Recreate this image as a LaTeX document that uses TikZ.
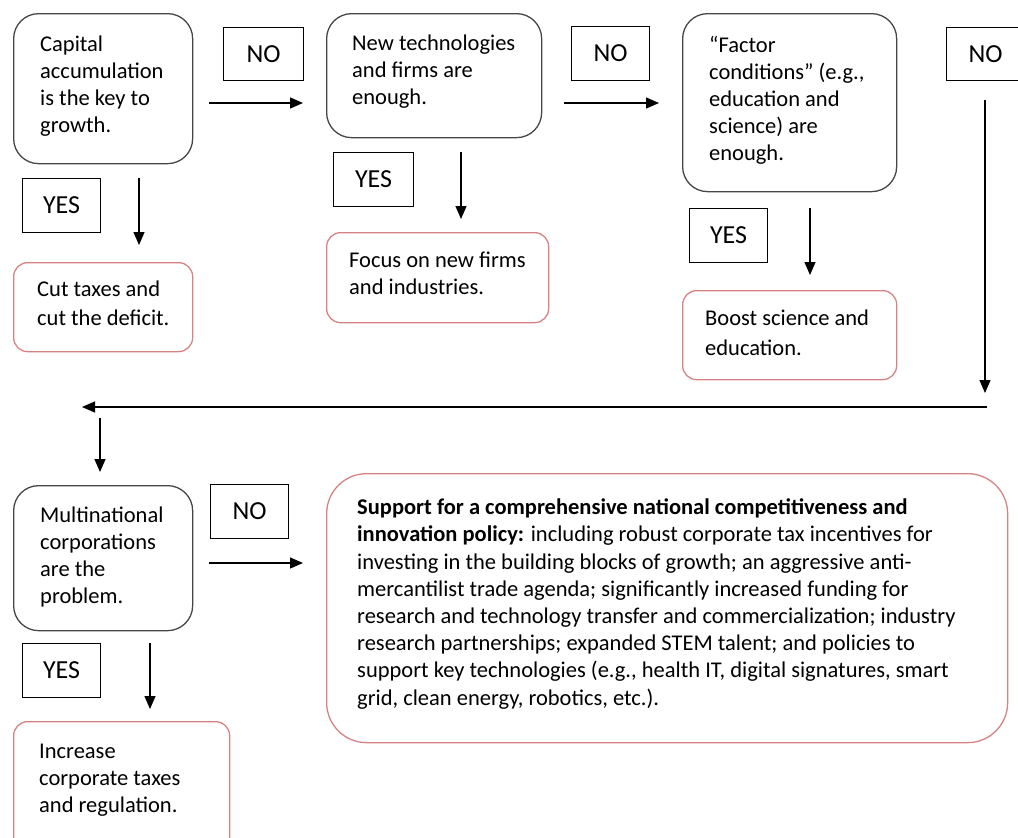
\documentclass[tikz,border=0pt]{standalone}
\usepackage{fontspec}
\setmainfont{Carlito}
\usetikzlibrary{arrows.meta}
\definecolor{qgray}{RGB}{70,70,70}
\definecolor{ared}{RGB}{215,130,130}
\tikzset{
  qbox/.style={draw=qgray, line width=1.3pt, rounded corners=25pt, anchor=north west, inner sep=0pt},
  abox/.style={draw=ared, line width=1.3pt, rounded corners=14pt, anchor=north west, inner sep=0pt},
  lbox/.style={draw=black, line width=1.1pt, anchor=north west, inner sep=0pt, font=\fontsize{26}{30}\selectfont},
  txt/.style={anchor=base west, inner sep=0pt, align=left, font=\fontsize{22.5}{27}\selectfont},
  arr/.style={line width=1.3pt, -{Triangle[length=13pt,width=11pt]}},
}
\begin{document}
\begin{tikzpicture}[x=1pt,y=-1pt]
\useasboundingbox (0,0) rectangle (1018,838);
\clip (0,0) rectangle (1018,838);
% boxes row 1 (text nodes are anchored at the baseline of their last line)
\node[qbox, minimum width=179, minimum height=150] (qa) at (13,13) {};
\node[txt] (ta) at (40,132) {Capital\\accumulation\\is the key to\\growth.};
\node[lbox, minimum width=80, minimum height=53] (no1) at (223,27) {NO};
\node[lbox, minimum width=78, minimum height=54] (yes1) at (22,178) {YES};
\node[abox, minimum width=179, minimum height=89] (aa) at (13,262) {};
\node[txt] (taa) at (37,325) {Cut taxes and\\[2pt]cut the deficit.};

\node[qbox, minimum width=215, minimum height=124] (qb) at (326,13) {};
\node[txt] (tb) at (352,104) {New technologies\\and firms are\\enough.};
\node[lbox, minimum width=78, minimum height=54] (no2) at (571,26) {NO};
\node[lbox, minimum width=80, minimum height=54] (yes2) at (333,152) {YES};
\node[abox, minimum width=222, minimum height=90] (ab) at (326,232) {};
\node[txt] (tab) at (349,294) {Focus on new firms\\and industries.};

\node[qbox, minimum width=214, minimum height=178] (qc) at (682,13) {};
\node[txt] (tc) at (709,160) {“Factor\\conditions” (e.g.,\\education and\\science) are\\enough.};
\node[lbox, minimum width=90, minimum height=53] (no3) at (946,27) {NO\hspace*{12pt}};
\node[lbox, minimum width=78, minimum height=54] (yes3) at (689,208) {YES};
\node[abox, minimum width=214, minimum height=89] (ac) at (682,290) {};
\node[txt] (tac) at (705,355) {Boost science and\\[3pt]education.};

% row 2
\node[qbox, minimum width=179, minimum height=145] (qd) at (13,485) {};
\node[txt] (td) at (40,603) {Multinational\\corporations\\are the\\problem.};
\node[lbox, minimum width=78, minimum height=54] (no4) at (210,484) {NO};
\node[lbox, minimum width=78, minimum height=54] (yes4) at (22,643) {YES};
\node[abox, minimum width=216, minimum height=140] (ad) at (13,721) {};
\node[txt] (tad) at (39,812) {Increase\\corporate taxes\\and regulation.};

\node[draw=ared, line width=1.3pt, rounded corners=40pt, anchor=north west, inner sep=0pt, minimum width=681, minimum height=269] (big) at (326,473) {};
\node[anchor=base west, inner sep=0pt, align=left, font=\fontsize{22.5}{27.2}\selectfont] (tbig) at (357,705) {\textbf{Support for a comprehensive national competitiveness and}\\
\textbf{innovation policy:} including robust corporate tax incentives for\\
investing in the building blocks of growth; an aggressive anti-\\
mercantilist trade agenda; significantly increased funding for\\
research and technology transfer and commercialization; industry\\
research partnerships; expanded STEM talent; and policies to\\
support key technologies (e.g., health IT, digital signatures, smart\\
grid, clean energy, robotics, etc.).};

% connectors
\coordinate (a1s) at (209,103); \coordinate (a1e) at (303,103);
\coordinate (d1s) at (139,178); \coordinate (d1e) at (139,245);
\coordinate (a2s) at (564,103); \coordinate (a2e) at (659,103);
\coordinate (d2s) at (461,152); \coordinate (d2e) at (461,219);
\coordinate (d3s) at (810,208); \coordinate (d3e) at (810,275);
\coordinate (a3s) at (985,100); \coordinate (a3e) at (985,393);
\coordinate (hs) at (987,407); \coordinate (he) at (82,407);
\coordinate (d4s) at (100,418); \coordinate (d4e) at (100,472);
\coordinate (a4s) at (209,563); \coordinate (a4e) at (303,563);
\coordinate (d5s) at (150,643); \coordinate (d5e) at (150,709);

\draw[arr] (a1s) -- (a1e);
\draw[arr] (d1s) -- (d1e);
\draw[arr] (a2s) -- (a2e);
\draw[arr] (d2s) -- (d2e);
\draw[arr] (d3s) -- (d3e);
\draw[arr] (a3s) -- (a3e);
\draw[arr] (hs) -- (he);
\draw[arr] (d4s) -- (d4e);
\draw[arr] (a4s) -- (a4e);
\draw[arr] (d5s) -- (d5e);
\end{tikzpicture}
\end{document}
